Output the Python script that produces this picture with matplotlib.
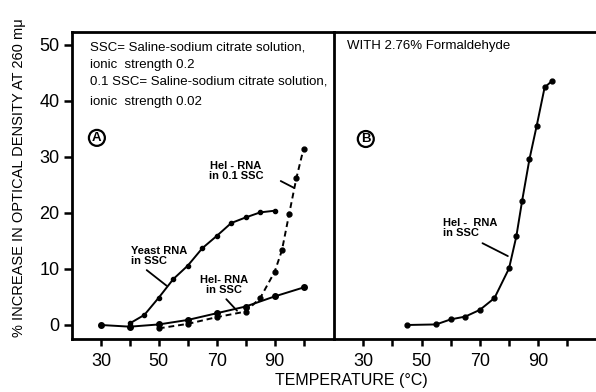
import numpy as np
import matplotlib.pyplot as plt

plt.rcParams['font.family'] = ['Liberation Sans', 'DejaVu Sans']

# Panel A data
yeast_t = [40, 45, 50, 55, 60, 65, 70, 75, 80, 85, 90]
yeast_v = [0.3, 1.8, 4.9, 8.2, 10.6, 13.7, 15.9, 18.2, 19.2, 20.1, 20.4]

hei_ssc_t = [30, 40, 50, 60, 70, 80, 90, 100]
hei_ssc_v = [0.0, -0.3, 0.1, 0.9, 2.1, 3.3, 5.1, 6.7]

hei_01_t = [50, 60, 70, 80, 85, 90, 92.5, 95, 97.5, 100]
hei_01_v = [-0.6, 0.2, 1.4, 2.4, 4.8, 9.5, 13.3, 19.8, 26.2, 31.5]

# Panel B data (with formaldehyde)
form_t = [45, 55, 60, 65, 70, 75, 80, 82.5, 84.5, 87, 89.5, 92.2, 94.8]
form_v = [0.0, 0.1, 1.0, 1.5, 2.7, 4.8, 10.1, 15.8, 22.2, 29.6, 35.6, 42.4, 43.6]

xticks = [30, 40, 50, 60, 70, 80, 90, 100]
xticklabels = ['30', '', '50', '', '70', '', '90', '']
yticks = [0, 10, 20, 30, 40, 50]

fig = plt.figure(figsize=(5.96, 3.92), dpi=100)
W, H = 596, 392
axA = fig.add_axes([72 / W, 1 - 339 / H, 262 / W, 307 / H])
axB = fig.add_axes([334 / W, 1 - 339 / H, 264 / W, 307 / H])
axB.patch.set_visible(False)

for ax in (axA, axB):
    ax.set_xlim(20, 110.5)
    ax.set_ylim(-2.5, 52.3)
    ax.set_xticks(xticks)
    ax.set_xticklabels(xticklabels, fontsize=13)
    ax.tick_params(axis='x', direction='out', length=5, width=1.8, pad=5)
    for s in ax.spines.values():
        s.set_linewidth(2)

axA.set_yticks(yticks)
axA.set_yticklabels([str(v) for v in yticks], fontsize=13)
axA.tick_params(axis='y', direction='out', length=6, width=1.8, pad=3)
axB.set_yticks([])
axB.spines['left'].set_visible(False)
axB.spines['right'].set_visible(False)

lw = 1.4
axA.plot(yeast_t, yeast_v, '-o', color='black', lw=lw, ms=3)
axA.plot(hei_ssc_t, hei_ssc_v, '-o', color='black', lw=lw, ms=4)
axA.plot(hei_01_t, hei_01_v, '--o', color='black', lw=lw, ms=3.5, dashes=(3, 2))
axB.plot(form_t, form_v, '-o', color='black', lw=lw, ms=3.5)

box_kw = dict(fontsize=9.5, ha='left', va='center', transform=axA.transAxes)
axA.text(0.069, (339 - 48) / 307, 'SSC= Saline-sodium citrate solution,', **box_kw)
axA.text(0.069, (339 - 65) / 307, 'ionic  strength 0.2', **box_kw)
axA.text(0.069, (339 - 82) / 307, '0.1 SSC= Saline-sodium citrate solution,', **box_kw)
axA.text(0.069, (339 - 102) / 307, 'ionic  strength 0.02', **box_kw)

circ = dict(boxstyle='circle,pad=0.15', fc='white', ec='black', lw=1.6)
axA.text(28.6, 33.4, 'A', fontsize=9.5, weight='bold', ha='center', va='center', bbox=circ)
axB.text(30.9, 33.2, 'B', fontsize=9.5, weight='bold', ha='center', va='center', bbox=circ)

lab_kw = dict(fontsize=8, weight='bold', linespacing=1.0)
lead = dict(arrowstyle='-', color='black', lw=1.3, shrinkA=0, shrinkB=0)
axA.text(76.6, 27.5, 'HeI - RNA\nin 0.1 SSC', ha='center', va='center', **lab_kw)
axA.annotate('', xy=(96.6, 24.5), xytext=(92.1, 25.7), arrowprops=lead)
axA.text(40.3, 12.3, 'Yeast RNA\nin SSC', ha='left', va='center', **lab_kw)
axA.annotate('', xy=(52.7, 7.0), xytext=(45.8, 9.8), arrowprops=lead)
axA.text(72.4, 7.1, 'HeI- RNA\nin SSC', ha='center', va='center', **lab_kw)
axA.annotate('', xy=(77, 2.55), xytext=(73.3, 4.6), arrowprops=lead)
axB.text(57.2, 17.4, 'HeI -  RNA\nin SSC', ha='left', va='center', **lab_kw)
axB.annotate('', xy=(79.6, 12.3), xytext=(70.9, 14.6), arrowprops=lead)

axB.text(0.05, (339 - 46) / 307, 'WITH 2.76% Formaldehyde', fontsize=9.5,
         ha='left', va='center', transform=axB.transAxes)

fig.text(19 / W, 1 - 178 / H, '% INCREASE IN OPTICAL DENSITY AT 260 m\u03bc', rotation=90,
         fontsize=10.5, ha='center', va='center')
fig.text(351 / W, 1 - 381 / H, 'TEMPERATURE (\u00b0C)', fontsize=11.5, ha='center', va='center')

fig.savefig('out.png', dpi=100)
